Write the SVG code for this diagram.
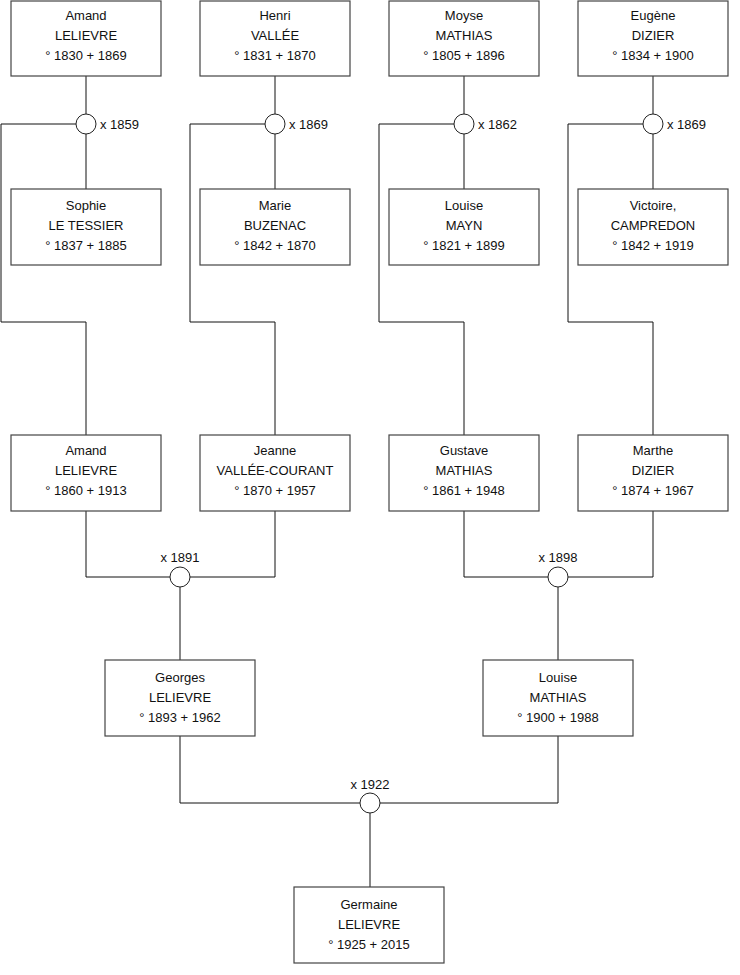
<svg xmlns="http://www.w3.org/2000/svg" width="740" height="975" viewBox="0 0 740 975">
<style>
.box{fill:#fff;stroke:#444;stroke-width:1.2}
.t{font-family:"Liberation Sans",Arial,sans-serif;font-size:13px;fill:#111;text-anchor:middle}
.l{font-family:"Liberation Sans",Arial,sans-serif;font-size:13px;fill:#111}
.c{fill:none;stroke:#111;stroke-width:1}
.m{fill:#fff;stroke:#222;stroke-width:1}
</style>
<rect width="740" height="975" fill="#fff"/>
<g id="connectors">
<path class="c" d="M86 76V114M86 134V189M76 124H1V322H86V435"/>
<path class="c" d="M275 76V114M275 134V189M265 124H190V322H275V435"/>
<path class="c" d="M464 76V114M464 134V189M454 124H379V322H464V435"/>
<path class="c" d="M653 76V114M653 134V189M643 124H568V322H653V435"/>
<path class="c" d="M86 511V577H170M275 511V577H190M180 587V660"/>
<path class="c" d="M464 511V577H548M653 511V577H568M558 587V660"/>
<path class="c" d="M180 736V803H360M558 736V803H380M370 813V887"/>
</g>
<g id="marriages">
<circle class="m" cx="86" cy="124" r="10"/><text class="l" x="100" y="129">x 1859</text>
<circle class="m" cx="275" cy="124" r="10"/><text class="l" x="289" y="129">x 1869</text>
<circle class="m" cx="464" cy="124" r="10"/><text class="l" x="478" y="129">x 1862</text>
<circle class="m" cx="653" cy="124" r="10"/><text class="l" x="667" y="129">x 1869</text>
<circle class="m" cx="180" cy="577" r="10"/><text class="t" x="180" y="562">x 1891</text>
<circle class="m" cx="558" cy="577" r="10"/><text class="t" x="558" y="562">x 1898</text>
<circle class="m" cx="370" cy="803" r="10"/><text class="t" x="370" y="789">x 1922</text>
</g>
<g id="n1"><rect class="box" x="11" y="1" width="150" height="75"/><text class="t" x="86" y="20">Amand</text><text class="t" x="86" y="40">LELIEVRE</text><text class="t" x="86" y="60">° 1830 + 1869</text></g>
<g id="n2"><rect class="box" x="200" y="1" width="150" height="75"/><text class="t" x="275" y="20">Henri</text><text class="t" x="275" y="40">VALLÉE</text><text class="t" x="275" y="60">° 1831 + 1870</text></g>
<g id="n3"><rect class="box" x="389" y="1" width="150" height="75"/><text class="t" x="464" y="20">Moyse</text><text class="t" x="464" y="40">MATHIAS</text><text class="t" x="464" y="60">° 1805 + 1896</text></g>
<g id="n4"><rect class="box" x="578" y="1" width="150" height="75"/><text class="t" x="653" y="20">Eugène</text><text class="t" x="653" y="40">DIZIER</text><text class="t" x="653" y="60">° 1834 + 1900</text></g>
<g id="n5"><rect class="box" x="11" y="189" width="150" height="76"/><text class="t" x="86" y="210">Sophie</text><text class="t" x="86" y="230">LE TESSIER</text><text class="t" x="86" y="250">° 1837 + 1885</text></g>
<g id="n6"><rect class="box" x="200" y="189" width="150" height="76"/><text class="t" x="275" y="210">Marie</text><text class="t" x="275" y="230">BUZENAC</text><text class="t" x="275" y="250">° 1842 + 1870</text></g>
<g id="n7"><rect class="box" x="389" y="189" width="150" height="76"/><text class="t" x="464" y="210">Louise</text><text class="t" x="464" y="230">MAYN</text><text class="t" x="464" y="250">° 1821 + 1899</text></g>
<g id="n8"><rect class="box" x="578" y="189" width="150" height="76"/><text class="t" x="653" y="210">Victoire,</text><text class="t" x="653" y="230">CAMPREDON</text><text class="t" x="653" y="250">° 1842 + 1919</text></g>
<g id="n9"><rect class="box" x="11" y="435" width="150" height="76"/><text class="t" x="86" y="455">Amand</text><text class="t" x="86" y="475">LELIEVRE</text><text class="t" x="86" y="495">° 1860 + 1913</text></g>
<g id="n10"><rect class="box" x="200" y="435" width="150" height="76"/><text class="t" x="275" y="455">Jeanne</text><text class="t" x="275" y="475">VALLÉE-COURANT</text><text class="t" x="275" y="495">° 1870 + 1957</text></g>
<g id="n11"><rect class="box" x="389" y="435" width="150" height="76"/><text class="t" x="464" y="455">Gustave</text><text class="t" x="464" y="475">MATHIAS</text><text class="t" x="464" y="495">° 1861 + 1948</text></g>
<g id="n12"><rect class="box" x="578" y="435" width="150" height="76"/><text class="t" x="653" y="455">Marthe</text><text class="t" x="653" y="475">DIZIER</text><text class="t" x="653" y="495">° 1874 + 1967</text></g>
<g id="n13"><rect class="box" x="105" y="660" width="150" height="76"/><text class="t" x="180" y="682">Georges</text><text class="t" x="180" y="702">LELIEVRE</text><text class="t" x="180" y="722">° 1893 + 1962</text></g>
<g id="n14"><rect class="box" x="483" y="660" width="150" height="76"/><text class="t" x="558" y="682">Louise</text><text class="t" x="558" y="702">MATHIAS</text><text class="t" x="558" y="722">° 1900 + 1988</text></g>
<g id="n15"><rect class="box" x="294" y="887" width="150" height="76"/><text class="t" x="369" y="909">Germaine</text><text class="t" x="369" y="929">LELIEVRE</text><text class="t" x="369" y="949">° 1925 + 2015</text></g>
</svg>
